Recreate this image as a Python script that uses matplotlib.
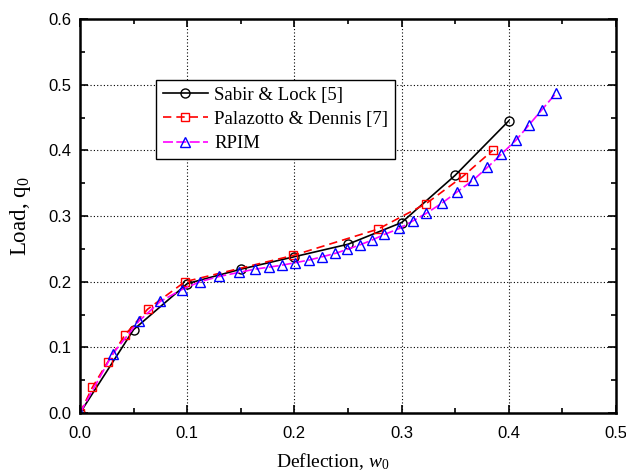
import numpy as np
import matplotlib
matplotlib.use('Agg')
import matplotlib.pyplot as plt
from matplotlib.ticker import MultipleLocator

plt.rcParams['mathtext.fontset'] = 'custom'
plt.rcParams['mathtext.rm'] = 'Liberation Serif'
plt.rcParams['mathtext.it'] = 'Liberation Serif:italic'

# Sabir & Lock [5]
sabir_x = [0.0, 0.05, 0.10, 0.15, 0.20, 0.25, 0.30, 0.35, 0.40]
sabir_y = [0.0, 0.127, 0.197, 0.219, 0.238, 0.257, 0.290, 0.362, 0.445]

# Palazotto & Dennis [7]
pala_x = [0.0, 0.0115, 0.026, 0.042, 0.063, 0.098, 0.199, 0.278, 0.323, 0.357, 0.385]
pala_y = [0.0, 0.039, 0.078, 0.119, 0.158, 0.200, 0.240, 0.280, 0.319, 0.360, 0.400]

# RPIM
rpim_x = [0.0, 0.0305, 0.055, 0.075, 0.095, 0.112, 0.130, 0.148, 0.163, 0.176, 0.188,
          0.201, 0.214, 0.226, 0.238, 0.249, 0.261, 0.272, 0.284, 0.298, 0.311,
          0.323, 0.338, 0.352, 0.367, 0.380, 0.393, 0.407, 0.419, 0.431, 0.444]
rpim_y = [0.0, 0.090, 0.140, 0.170, 0.188, 0.200, 0.208, 0.214, 0.219, 0.222, 0.225,
          0.229, 0.233, 0.238, 0.243, 0.249, 0.256, 0.263, 0.272, 0.281, 0.293,
          0.304, 0.320, 0.337, 0.355, 0.374, 0.394, 0.416, 0.439, 0.462, 0.487]

fig = plt.figure(figsize=(6.26, 4.76), dpi=100)
ax = fig.add_axes([80/626, 1 - 413/476, 536/626, 394/476])

ax.plot(sabir_x, sabir_y, color='black', lw=1.2, marker='o', ms=6.5,
        mfc='none', mec='black', mew=1.0, label='Sabir & Lock [5]')
ax.plot(pala_x, pala_y, color='red', lw=1.2, ls=(0, (5, 3)), marker='s', ms=6,
        mfc='none', mec='red', mew=1.0, label='Palazotto & Dennis [7]')
ax.plot(rpim_x, rpim_y, color='magenta', lw=1.2, ls=(0, (6, 2)), marker='^', ms=7.5,
        mfc='none', mec='blue', mew=1.0, label='RPIM')

ax.set_xlim(0, 0.5)
ax.set_ylim(0, 0.6)
ax.xaxis.set_major_locator(MultipleLocator(0.1))
ax.xaxis.set_minor_locator(MultipleLocator(0.05))
ax.yaxis.set_major_locator(MultipleLocator(0.1))
ax.yaxis.set_minor_locator(MultipleLocator(0.05))
ax.set_xticklabels(['%.1f' % v for v in ax.get_xticks()])
ax.set_yticklabels(['%.1f' % v for v in ax.get_yticks()])

ax.tick_params(which='both', direction='in', top=True, right=True,
               labelsize=12, width=1.2)
ax.tick_params(which='major', length=6)
ax.tick_params(axis='x', which='major', pad=9)
ax.tick_params(axis='y', which='major', pad=6)
ax.tick_params(which='minor', length=3.5)
for lab in ax.get_xticklabels() + ax.get_yticklabels():
    lab.set_family('Liberation Sans')
for s in ax.spines.values():
    s.set_linewidth(1.8)

ax.grid(True, which='major', ls=(0, (1, 2)), color='black', lw=0.8)

ax.set_xlabel(r'Deflection, $\mathit{w}_0$', family='Liberation Serif', fontsize=14)
ax.xaxis.set_label_coords(0.472, -0.097)
ax.set_ylabel(r'Load, q$_0$', family='Liberation Serif', fontsize=16.5)
ax.yaxis.set_label_coords(-0.088, 0.5)

leg = ax.legend(loc='upper left', bbox_to_anchor=(0.142, 0.845),
                prop={'family': 'Liberation Serif', 'size': 13.5},
                frameon=True, fancybox=False, edgecolor='black', framealpha=1,
                handlelength=2.4, borderpad=0.35, labelspacing=0.38, handletextpad=0.35,
                borderaxespad=0)
leg.get_frame().set_linewidth(1.0)

fig.savefig('out.png', dpi=100)
